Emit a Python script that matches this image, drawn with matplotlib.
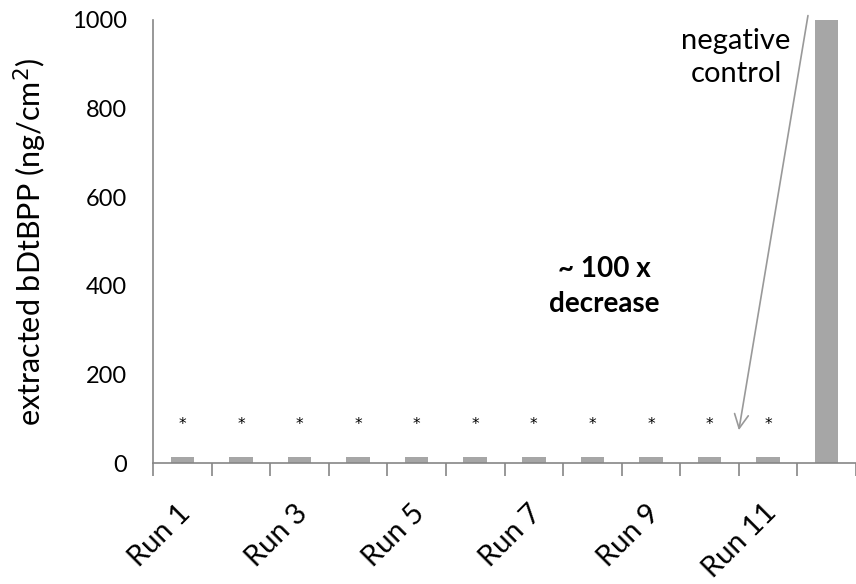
import numpy as np
import matplotlib
matplotlib.use("Agg")
import matplotlib.pyplot as plt
from matplotlib.transforms import ScaledTranslation

plt.rcParams['font.family'] = ['Lato', 'DejaVu Sans']

# data
categories = ["Run 1", "Run 2", "Run 3", "Run 4", "Run 5", "Run 6",
              "Run 7", "Run 8", "Run 9", "Run 10", "Run 11", "negative control"]
values = [14, 14, 14, 14, 14, 14, 14, 14, 14, 14, 14, 1000]
shown_labels = ["Run 1", "", "Run 3", "", "Run 5", "", "Run 7", "", "Run 9", "", "Run 11", ""]
star_level = 86

bar_color = "#a6a6a6"
axis_color = "#868686"

fig = plt.figure(figsize=(8.56, 5.84), dpi=100)
ax = fig.add_axes([153/856, 121/584, 703/856, 443/584])

x = np.arange(len(categories))
ax.bar(x, values, width=0.4, color=bar_color, zorder=2)

for i in range(len(categories) - 1):
    ax.text(x[i], star_level, "*", ha="center", va="center", fontsize=11,
            family="DejaVu Sans", color="black")

ax.set_xlim(-0.5, -0.5 + 703/59.2)
ax.set_ylim(0, 1000)
ax.set_yticks([0, 200, 400, 600, 800, 1000])
ax.tick_params(axis="y", length=0, labelsize=17, pad=19)

ax.set_xticks(np.arange(len(categories) + 1) - 0.5, minor=True)
ax.set_xticks(x)
ax.set_xticklabels(shown_labels, rotation=45, ha="right", va="center",
                   rotation_mode="anchor", fontsize=21)
ax.tick_params(axis="x", which="major", length=0, pad=33)
ax.tick_params(axis="x", which="minor", length=9, width=1.2, color=axis_color, direction="out")
for lab in ax.get_xticklabels():
    lab.set_transform(lab.get_transform() + ScaledTranslation(0.04, 0, fig.dpi_scale_trans))

for side in ["top", "right"]:
    ax.spines[side].set_visible(False)
for side in ["left", "bottom"]:
    ax.spines[side].set_color(axis_color)
    ax.spines[side].set_linewidth(1.2)

ax.set_ylabel("extracted bDtBPP (ng/cm$^2$)", fontsize=22, labelpad=16)

ax.text(9.45, 982, "negative\ncontrol", ha="center", va="top", fontsize=21, linespacing=1.35)
ax.text(7.2, 468, "~ 100 x\ndecrease", ha="center", va="top", fontsize=20,
        fontweight="bold", linespacing=1.45)
ax.annotate("", xy=(9.5, 74), xytext=(10.68, 1010), xycoords="data",
            annotation_clip=False,
            arrowprops=dict(arrowstyle="->", color="#999999", lw=1.2,
                            mutation_scale=25, shrinkA=0, shrinkB=0))

fig.savefig("out.png", dpi=100)
